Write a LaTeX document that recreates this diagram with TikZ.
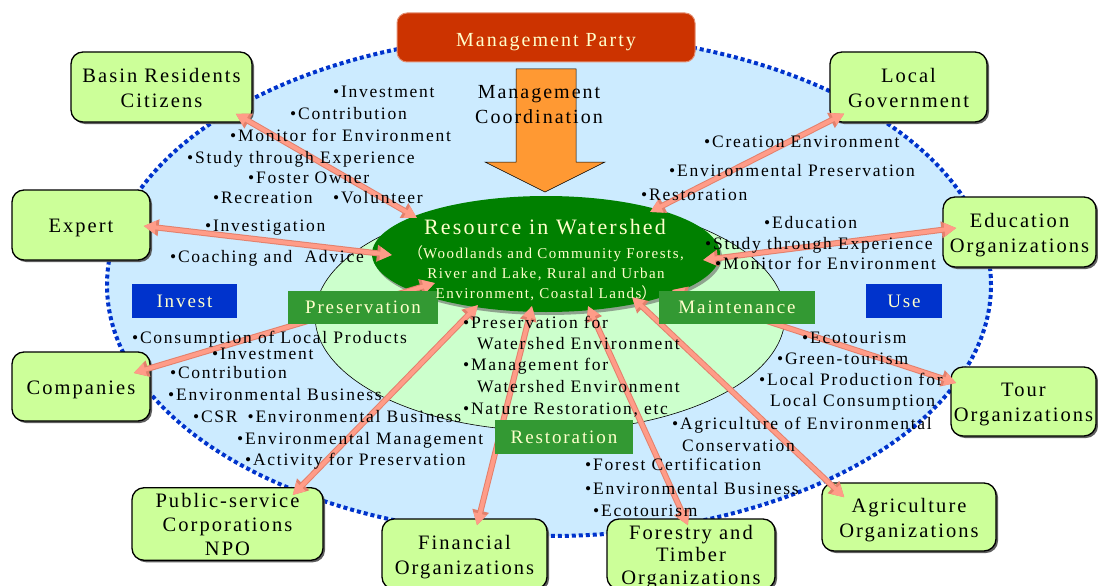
\documentclass[tikz,border=0pt]{standalone}
\usepackage{fontspec}
\setmainfont{Liberation Serif}[LetterSpace=10]
\newfontfamily\cjk{Noto Sans CJK SC}
\usetikzlibrary{arrows.meta,shapes.geometric,shadows,calc}
\definecolor{skyfill}{HTML}{CCEBFF}
\definecolor{dotblue}{HTML}{0033CC}
\definecolor{palegreen}{HTML}{CCFFCC}
\definecolor{deepgreen}{HTML}{008000}
\definecolor{boxgreen}{HTML}{CCFF99}
\definecolor{labgreen}{HTML}{339933}
\definecolor{mgmtred}{HTML}{CC3300}
\definecolor{orangearrow}{HTML}{FF9933}
\definecolor{salmonfill}{HTML}{FF9C88}
\definecolor{salmonedge}{HTML}{E3806C}
\definecolor{creamtext}{HTML}{FFFFCC}
\newcommand\topstrut{\rule{0pt}{20pt}}
\newcommand\botstrut{\rule[-4.5pt]{0pt}{4.5pt}}
\tikzset{
  orgbox/.style={draw=black, line width=1.3pt, fill=boxgreen, rounded corners=12pt,
    align=center, inner sep=0pt,
    font=\fontsize{20.5}{25}\selectfont,
    drop shadow={shadow xshift=2pt, shadow yshift=-2pt, fill=black!70, opacity=0.9}},
  labbox/.style={text=creamtext, inner sep=0pt, font=\fontsize{19}{23}\selectfont},
  bt/.style={anchor=base west, inner sep=0pt, font=\fontsize{17.5}{21}\selectfont},
  sal/.style={
    preaction={draw=salmonedge, line width=6pt,
      {Triangle[length=15pt,width=16pt]}-{Triangle[length=15pt,width=16pt]}},
    draw=salmonfill, line width=4pt,
    {Triangle[length=12pt,width=12.5pt]}-{Triangle[length=12pt,width=12.5pt]}}
}
\begin{document}
\begin{tikzpicture}[x=1pt,y=-1pt]
\useasboundingbox (0,0) rectangle (1098,586);
\clip (0,0) rectangle (1098,586);

% big ellipse and inner ellipse
\node[ellipse, fill=skyfill, draw=dotblue, line width=4pt, dash pattern=on 4pt off 3pt,
  minimum width=884pt, minimum height=502pt, inner sep=0pt] (outer) at (549,285) {};
\node[ellipse, fill=palegreen, draw=black, line width=0.6pt,
  minimum width=470pt, minimum height=230pt, inner sep=0pt] (inner) at (550,316) {};

% management party
\node[fill=mgmtred, draw=mgmtred!55!white, line width=1pt, rounded corners=10pt,
  minimum width=298pt, minimum height=49pt, inner sep=0pt, text=creamtext,
  text height=18.2pt, text depth=0pt,
  font=\fontsize{20}{24}\selectfont] (party) at (546,37.5) {Management Party};

% orange block arrow
\draw[fill=orangearrow, draw=black, line width=0.5pt]
  (516,69) -- (576,69) -- (576,162) -- (605,162) -- (545,192) -- (485,162) -- (516,162) -- cycle;
\node[align=center, inner sep=0pt, font=\fontsize{20}{25}\selectfont] (coord) at (539,104.5)
  {Management\\Coordination};

% organisation boxes
\node[orgbox, minimum width=181pt, minimum height=70pt] (basin) at (161.5,87) {\topstrut Basin Residents\\Citizens\botstrut};
\node[orgbox, minimum width=157pt, minimum height=70pt] (localgov) at (908.5,87) {\topstrut Local\\Government\botstrut};
\node[orgbox, minimum width=138pt, minimum height=70pt] (expert) at (81,225) {\topstrut Expert\botstrut};
\node[orgbox, minimum width=153pt, minimum height=70pt] (educ) at (1019.5,232) {\topstrut Education\\Organizations\botstrut};
\node[orgbox, minimum width=138pt, minimum height=69pt] (companies) at (81,386.5) {\topstrut Companies\botstrut};
\node[orgbox, minimum width=145pt, minimum height=69pt] (tour) at (1023.5,401.5) {\topstrut Tour\\Organizations\botstrut};
\node[orgbox, minimum width=191pt, minimum height=70pt, font=\fontsize{20.5}{24}\selectfont] (public) at (227.5,524) {\topstrut Public-service\\Corporations\\NPO\botstrut};
\node[orgbox, minimum width=165pt, minimum height=70pt] (financial) at (464.5,554) {\topstrut Financial\\Organizations\botstrut};
\node[orgbox, minimum width=168pt, minimum height=70pt, font=\fontsize{20.5}{22.5}\selectfont] (forestry) at (691,554) {\topstrut Forestry and\\Timber\\Organizations\botstrut};
\node[orgbox, minimum width=174pt, minimum height=68pt] (agri) at (909,517) {\topstrut Agriculture\\Organizations\botstrut};

% resource ellipse
\node[ellipse, fill=deepgreen, minimum width=348pt, minimum height=116pt, inner sep=0pt,
  drop shadow={shadow xshift=2pt, shadow yshift=-3pt, fill=black!60, opacity=0.6}] (res) at (546,254) {};

% ellipse-side ends of the connectors
\coordinate (eBasin) at (417,218);
\coordinate (eExpert) at (392,255);
\coordinate (eComp) at (435,283);
\coordinate (ePub) at (478,305);
\coordinate (eFin) at (532,306);
\coordinate (eFor) at (588,306);
\coordinate (eAgri) at (632,297);
\coordinate (eTour) at (672,290);
\coordinate (eEdu) at (703,260);
\coordinate (eGov) at (650,212);

% connectors
\draw[sal] (eBasin) -- ([shift={(-17,-9)}]basin.south east);
\draw[sal] (eExpert) -- ([shift={(-7,1)}]expert.east);
\draw[sal] (eComp) -- ([shift={(-17,-13.5)}]companies.east);
\draw[sal] (ePub) -- ([shift={(-31,8)}]public.north east);
\draw[sal] (eFin) -- ([shift={(12.5,7)}]financial.north);
\draw[sal] (eFor) -- ([shift={(-3,7)}]forestry.north);
\draw[sal] (eAgri) -- ([shift={(23,15)}]agri.north west);
\draw[sal] (eTour) -- ([shift={(6,-18.5)}]tour.west);
\draw[sal] (eEdu) -- ([shift={(14,-4)}]educ.west);
\draw[sal] (eGov) -- ([shift={(15,-9)}]localgov.south west);

% category labels
\node[labbox, fill=dotblue, minimum width=105pt, minimum height=34pt] (invest) at (184.5,301) {Invest};
\node[labbox, fill=dotblue, minimum width=76pt, minimum height=34pt] (use) at (904,301) {Use};
\node[labbox, fill=labgreen, minimum width=150pt, minimum height=33pt] (pres) at (363,307.5) {Preservation};
\node[labbox, fill=labgreen, minimum width=156pt, minimum height=33pt] (maint) at (737,307.5) {Maintenance};
\node[labbox, fill=labgreen, minimum width=138pt, minimum height=34pt] (rest) at (564,437) {Restoration};

% resource text
\node[text=creamtext, inner sep=0pt, font=\fontsize{22}{26}\selectfont] (restitle) at (545,227) {Resource in Watershed};
\node[text=creamtext, inner sep=0pt, align=center, font=\fontsize{15}{20}\selectfont] (ressub) at (546,273)
  {{\cjk （}Woodlands and Community Forests,\\River and Lake, Rural and Urban\\Environment, Coastal Lands{\cjk ）}};

% bullet texts, left top
\node[bt] (t1) at (333,98) {•Investment};
\node[bt] (t2) at (290,119) {•Contribution};
\node[bt] (t3) at (230,141) {•Monitor for Environment};
\node[bt] (t4) at (187,163) {•Study through Experience};
\node[bt] (t5) at (248,183) {•Foster Owner};
\node[bt] (t6) at (213,203) {•Recreation};
\node[bt] (t7) at (333,203) {•Volunteer};
\node[bt] (t8) at (205,231) {•Investigation};
\node[bt] (t9) at (170,262) {•Coaching and\ \ Advice};
% right top
\node[bt] (t10) at (704,147) {•Creation Environment};
\node[bt] (t11) at (669,176) {•Environmental Preservation};
\node[bt] (t12) at (641,200) {•Restoration};
\node[bt] (t13) at (764,228) {•Education};
\node[bt] (t14) at (705,249) {•Study through Experience};
\node[bt] (t15) at (715,269) {•Monitor for Environment};
% left bottom
\node[bt] (t16) at (132,343) {•Consumption of Local Products};
\node[bt] (t17) at (212,359) {•Investment};
\node[bt] (t18) at (170,378) {•Contribution};
\node[bt] (t19) at (168,400) {•Environmental Business};
\node[bt] (t20) at (193,422) {•CSR\hspace{10pt}•Environmental Business};
\node[bt] (t21) at (237,444) {•Environmental Management};
\node[bt] (t22) at (245,465) {•Activity for Preservation};
% centre
\node[bt] (t23) at (463,328) {•Preservation for};
\node[bt] (t24) at (477,349) {Watershed Environment};
\node[bt] (t25) at (463,370) {•Management for};
\node[bt] (t26) at (477,392) {Watershed Environment};
\node[bt] (t27) at (463,414) {•Nature Restoration, etc};
% right bottom
\node[bt] (t28) at (802,343) {•Ecotourism};
\node[bt] (t29) at (777,364) {•Green-tourism};
\node[bt] (t30) at (759,385) {•Local Production for};
\node[bt] (t31) at (770,406) {Local Consumption};
\node[bt] (t32) at (672,429) {•Agriculture of Environmental};
\node[bt] (t33) at (682,451) {Conservation};
\node[bt] (t34) at (585,470) {•Forest Certification};
\node[bt] (t35) at (585,494) {•Environmental Business};
\node[bt] (t36) at (593,516) {•Ecotourism};
\end{tikzpicture}
\end{document}
